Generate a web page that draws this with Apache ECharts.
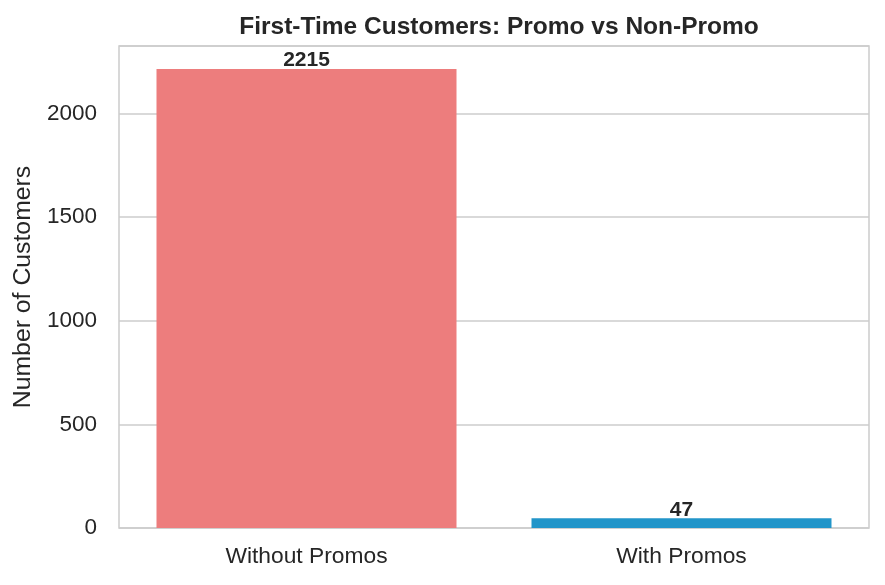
<!DOCTYPE html>
<html><head><meta charset="utf-8">
<script src="https://cdn.jsdelivr.net/npm/echarts@6/dist/echarts.min.js"></script>
<style>html,body{margin:0;padding:0;background:#fff}#c{width:885px;height:585px}</style>
</head><body><div id="c"></div>
<script>
const categories = ["Without Promos", "With Promos"];
const values = [2215, 47];
const barColors = ["#ED7D7D", "#2295C9"];
const yTicks = [0, 500, 1000, 1500, 2000];

const chart = echarts.init(document.getElementById('c'));
const font = "Liberation Sans, Arial, sans-serif";
chart.setOption({
  animation: false,
  textStyle: { fontFamily: font },
  title: {
    text: "First-Time Customers: Promo vs Non-Promo",
    left: 494, top: 10, textAlign: 'center',
    textStyle: { fontFamily: font, fontWeight: 'bold', fontSize: 24.5, color: '#262626' }
  },
  grid: { left: 119, right: 16, top: 46, bottom: 57, show: true, borderColor: '#cccccc', borderWidth: 1.5, backgroundColor: 'transparent' },
  xAxis: {
    type: 'category', data: categories,
    axisLine: { show: false }, axisTick: { show: false },
    axisLabel: { fontSize: 22.8, color: '#262626', margin: 17, fontFamily: font }
  },
  yAxis: {
    type: 'value', min: 0, max: 2215 * 1.05, interval: 500,
    name: "Number of Customers", nameLocation: 'middle', nameGap: 79, nameRotate: 90,
    nameTextStyle: { fontSize: 24.8, color: '#262626', fontFamily: font },
    axisLine: { show: false }, axisTick: { show: false },
    axisLabel: { fontSize: 22.5, color: '#262626', margin: 22, showMaxLabel: false, fontFamily: font,
      formatter: v => yTicks.includes(v) ? String(v) : '' },
    splitLine: { lineStyle: { color: '#cccccc', width: 1.5 } }
  },
  series: [{
    type: 'bar', barWidth: '80%',
    data: values.map((v, i) => ({ value: v, itemStyle: { color: barColors[i] } })),
    label: { show: true, position: 'top', distance: -2, fontWeight: 'bold', fontSize: 21, color: '#262626', fontFamily: font }
  }]
});
</script></body></html>
